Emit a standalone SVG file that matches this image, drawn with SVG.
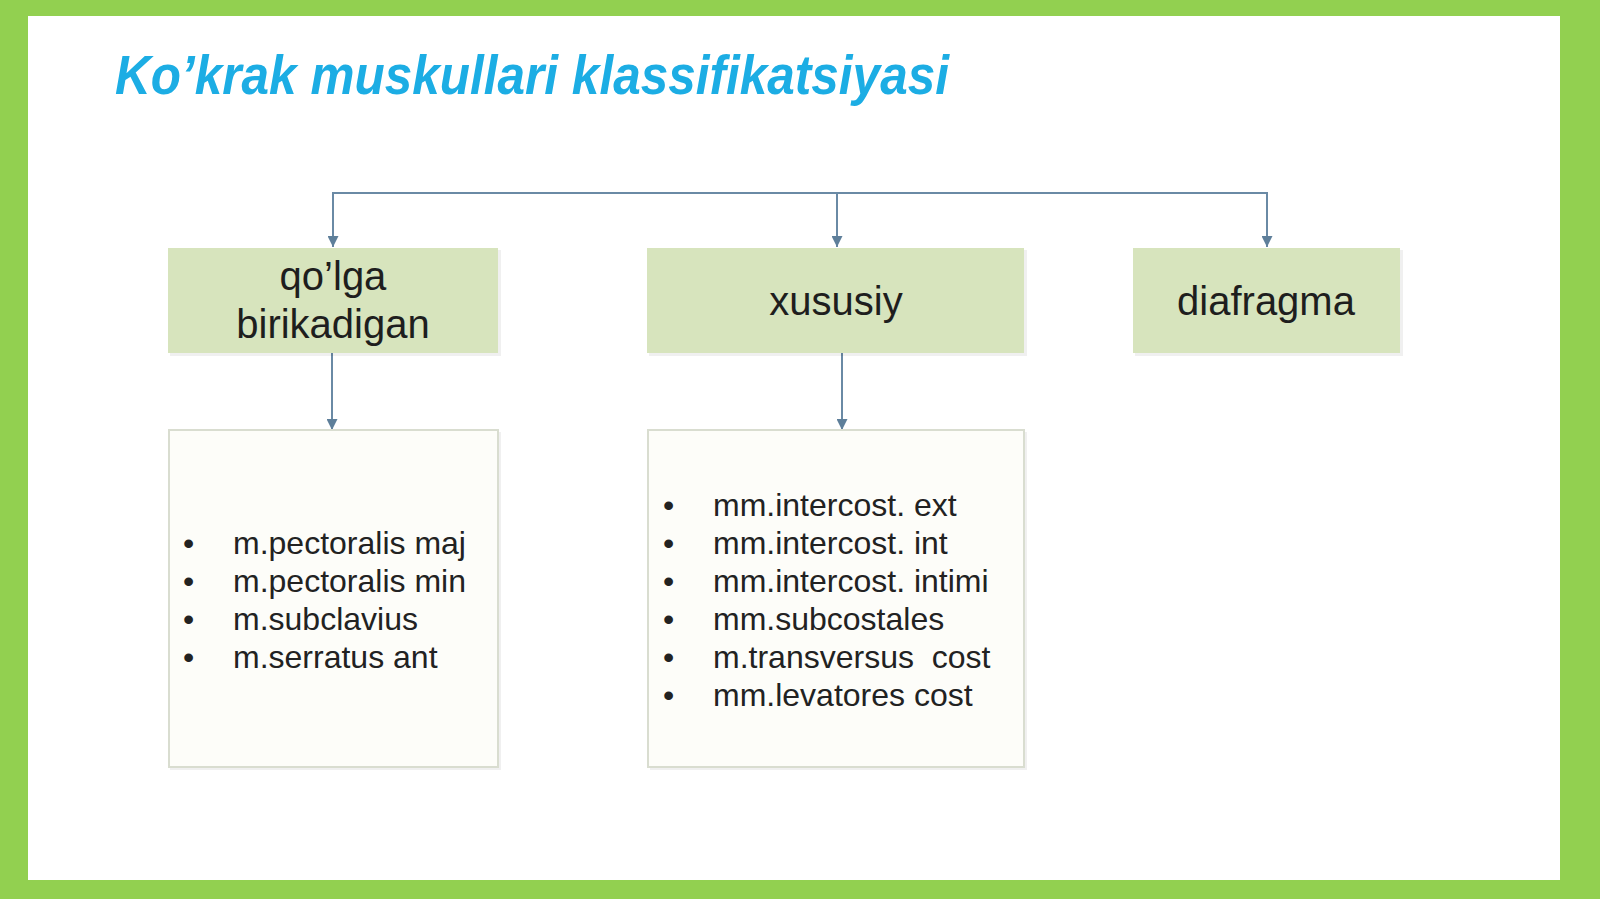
<svg xmlns="http://www.w3.org/2000/svg" width="1600" height="899" viewBox="0 0 1600 899">
<style>
.title{font-family:"Liberation Sans",Arial,sans-serif;font-weight:bold;font-style:italic;font-size:56px;fill:#1CADE4}
.head{fill:#D7E4BD}
.lbl{font-family:"Liberation Sans",Arial,sans-serif;font-size:40px;fill:#1E1E1E;text-anchor:middle}
.list{fill:#FDFDF9;stroke:#D9DDD0;stroke-width:2}
.item{font-family:"Liberation Sans",Arial,sans-serif;font-size:32px;fill:#222;white-space:pre}
.shadow{fill:#000;opacity:0.06}
.conn{stroke:#6A8AA5;stroke-width:2;fill:none}
</style>
<defs>
<marker id="arr" viewBox="0 0 10 10" refX="10" refY="5" markerWidth="11" markerHeight="11" orient="auto" markerUnits="userSpaceOnUse">
<path d="M0,0 L10,5 L0,10 z" fill="#5E7F9A"/>
</marker>
</defs>
<rect x="0" y="0" width="1600" height="899" fill="#92D050"/>
<rect x="28" y="16" width="1532" height="864" fill="#FFFFFF"/>
<text class="title" x="115" y="94" textLength="834" lengthAdjust="spacingAndGlyphs">Ko’krak muskullari klassifikatsiyasi</text>

<g id="connectors">
<path class="conn" d="M333,238 V193 H1267 V238" />
<path class="conn" d="M333,193 V247" marker-end="url(#arr)"/>
<path class="conn" d="M837,193 V247" marker-end="url(#arr)"/>
<path class="conn" d="M1267,193 V247" marker-end="url(#arr)"/>
<path class="conn" d="M332,353 V430" marker-end="url(#arr)"/>
<path class="conn" d="M842,353 V430" marker-end="url(#arr)"/>
</g>

<g id="node-qolga">
<rect class="shadow" x="170" y="250" width="331" height="106"/>
<rect class="head" x="168" y="248" width="330" height="105"/>
<text class="lbl" x="333" y="290">qo’lga</text>
<text class="lbl" x="333" y="338">birikadigan</text>
</g>

<g id="node-xususiy">
<rect class="shadow" x="649" y="250" width="378" height="106"/>
<rect class="head" x="647" y="248" width="377" height="105"/>
<text class="lbl" x="836" y="315">xususiy</text>
</g>

<g id="node-diafragma">
<rect class="shadow" x="1135" y="250" width="268" height="106"/>
<rect class="head" x="1133" y="248" width="267" height="105"/>
<text class="lbl" x="1266" y="315">diafragma</text>
</g>

<g id="node-list1">
<rect class="shadow" x="170" y="432" width="331" height="338"/>
<rect class="list" x="169" y="430" width="329" height="337"/>
<g class="item">
<text x="183" y="554">•</text><text x="233" y="554">m.pectoralis maj</text>
<text x="183" y="592">•</text><text x="233" y="592">m.pectoralis min</text>
<text x="183" y="630">•</text><text x="233" y="630">m.subclavius</text>
<text x="183" y="668">•</text><text x="233" y="668">m.serratus ant</text>
</g>
</g>

<g id="node-list2">
<rect class="shadow" x="650" y="432" width="377" height="338"/>
<rect class="list" x="648" y="430" width="376" height="337"/>
<g class="item">
<text x="663" y="516">•</text><text x="713" y="516">mm.intercost. ext</text>
<text x="663" y="554">•</text><text x="713" y="554">mm.intercost. int</text>
<text x="663" y="592">•</text><text x="713" y="592">mm.intercost. intimi</text>
<text x="663" y="630">•</text><text x="713" y="630">mm.subcostales</text>
<text x="663" y="668">•</text><text x="713" y="668" xml:space="preserve">m.transversus  cost</text>
<text x="663" y="706">•</text><text x="713" y="706">mm.levatores cost</text>
</g>
</g>
</svg>
